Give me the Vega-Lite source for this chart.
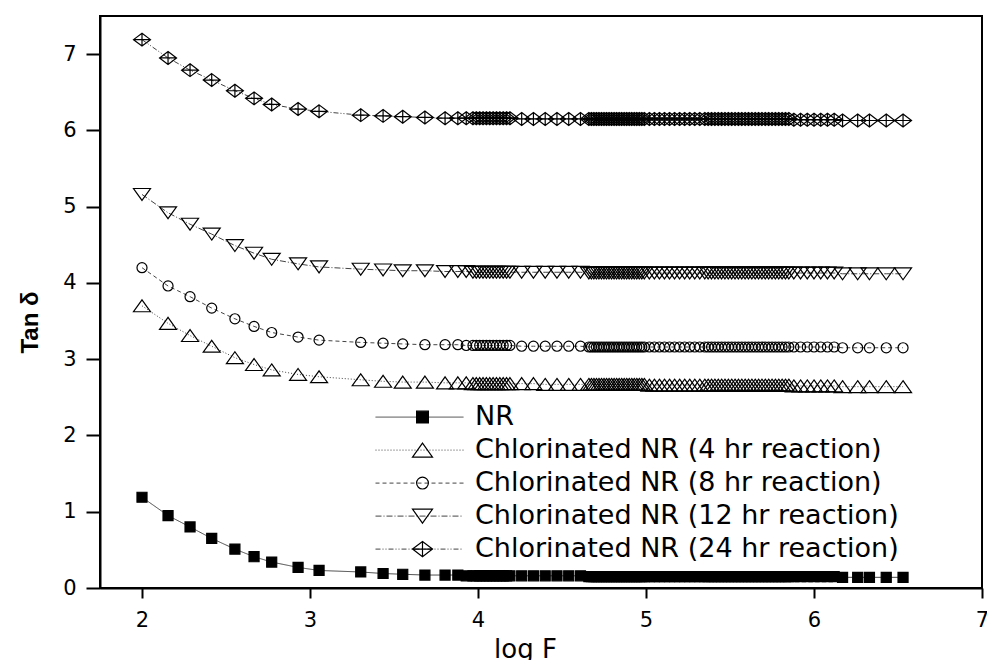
{
"$schema": "https://vega.github.io/schema/vega-lite/v6.json",
"width": 882,
"height": 572,
"autosize": {"type": "none"},
"padding": {"left": 100, "top": 16, "right": 5, "bottom": 72},
"config": {
  "font": "DejaVu Sans",
  "view": {"stroke": "black", "strokeWidth": 2},
  "axis": {"domainColor": "black", "domainWidth": 2, "tickColor": "black", "tickWidth": 2, "labelColor": "black", "labelFont": "DejaVu Sans", "labelFontSize": 21, "grid": false, "titleColor": "black"}
},
"data": {"values": [
{"x":2,"s":"NR","y":1.19},{"x":2.155,"s":"NR","y":0.95},{"x":2.286,"s":"NR","y":0.8},{"x":2.415,"s":"NR","y":0.65},{"x":2.553,"s":"NR","y":0.51},{"x":2.667,"s":"NR","y":0.41},{"x":2.772,"s":"NR","y":0.34},{"x":2.929,"s":"NR","y":0.27},{"x":3.054,"s":"NR","y":0.23},{"x":3.302,"s":"NR","y":0.21},{"x":3.435,"s":"NR","y":0.19},{"x":3.552,"s":"NR","y":0.18},{"x":3.684,"s":"NR","y":0.17},{"x":3.804,"s":"NR","y":0.17},{"x":3.88,"s":"NR","y":0.17},{"x":3.93,"s":"NR","y":0.16},
{"x":3.97,"s":"NR","y":0.16},{"x":3.99,"s":"NR","y":0.16},{"x":4.01,"s":"NR","y":0.16},{"x":4.03,"s":"NR","y":0.16},{"x":4.05,"s":"NR","y":0.16},{"x":4.07,"s":"NR","y":0.16},{"x":4.09,"s":"NR","y":0.16},{"x":4.11,"s":"NR","y":0.16},{"x":4.13,"s":"NR","y":0.16},{"x":4.15,"s":"NR","y":0.16},{"x":4.17,"s":"NR","y":0.16},{"x":4.19,"s":"NR","y":0.16},
{"x":4.26,"s":"NR","y":0.16},{"x":4.33,"s":"NR","y":0.16},{"x":4.4,"s":"NR","y":0.16},{"x":4.47,"s":"NR","y":0.16},{"x":4.54,"s":"NR","y":0.16},{"x":4.61,"s":"NR","y":0.16},
{"x":4.66,"s":"NR","y":0.15},{"x":4.675,"s":"NR","y":0.15},{"x":4.69,"s":"NR","y":0.15},{"x":4.705,"s":"NR","y":0.15},{"x":4.72,"s":"NR","y":0.15},{"x":4.735,"s":"NR","y":0.15},{"x":4.75,"s":"NR","y":0.15},{"x":4.765,"s":"NR","y":0.15},{"x":4.78,"s":"NR","y":0.15},{"x":4.795,"s":"NR","y":0.15},{"x":4.81,"s":"NR","y":0.15},{"x":4.825,"s":"NR","y":0.15},{"x":4.84,"s":"NR","y":0.15},{"x":4.855,"s":"NR","y":0.15},{"x":4.87,"s":"NR","y":0.15},{"x":4.885,"s":"NR","y":0.15},{"x":4.9,"s":"NR","y":0.15},{"x":4.915,"s":"NR","y":0.15},{"x":4.93,"s":"NR","y":0.15},{"x":4.945,"s":"NR","y":0.15},{"x":4.96,"s":"NR","y":0.15},{"x":4.975,"s":"NR","y":0.15},{"x":4.99,"s":"NR","y":0.15},
{"x":5.02,"s":"NR","y":0.15},{"x":5.05,"s":"NR","y":0.15},{"x":5.08,"s":"NR","y":0.15},{"x":5.11,"s":"NR","y":0.15},{"x":5.14,"s":"NR","y":0.15},{"x":5.17,"s":"NR","y":0.15},{"x":5.2,"s":"NR","y":0.15},{"x":5.23,"s":"NR","y":0.15},{"x":5.26,"s":"NR","y":0.15},{"x":5.29,"s":"NR","y":0.15},{"x":5.32,"s":"NR","y":0.15},{"x":5.35,"s":"NR","y":0.15},
{"x":5.37,"s":"NR","y":0.15},{"x":5.39,"s":"NR","y":0.15},{"x":5.41,"s":"NR","y":0.15},{"x":5.43,"s":"NR","y":0.15},{"x":5.45,"s":"NR","y":0.15},{"x":5.47,"s":"NR","y":0.15},{"x":5.49,"s":"NR","y":0.15},{"x":5.51,"s":"NR","y":0.15},{"x":5.53,"s":"NR","y":0.15},{"x":5.55,"s":"NR","y":0.15},{"x":5.57,"s":"NR","y":0.15},{"x":5.59,"s":"NR","y":0.15},{"x":5.61,"s":"NR","y":0.15},{"x":5.63,"s":"NR","y":0.15},{"x":5.65,"s":"NR","y":0.15},{"x":5.67,"s":"NR","y":0.15},{"x":5.69,"s":"NR","y":0.15},{"x":5.71,"s":"NR","y":0.15},{"x":5.73,"s":"NR","y":0.15},{"x":5.75,"s":"NR","y":0.15},{"x":5.77,"s":"NR","y":0.15},{"x":5.79,"s":"NR","y":0.15},{"x":5.81,"s":"NR","y":0.15},{"x":5.83,"s":"NR","y":0.15},{"x":5.85,"s":"NR","y":0.15},
{"x":5.88,"s":"NR","y":0.15},{"x":5.92,"s":"NR","y":0.15},{"x":5.96,"s":"NR","y":0.15},{"x":6,"s":"NR","y":0.15},{"x":6.04,"s":"NR","y":0.15},{"x":6.08,"s":"NR","y":0.15},{"x":6.12,"s":"NR","y":0.15},{"x":6.17,"s":"NR","y":0.14},{"x":6.26,"s":"NR","y":0.14},{"x":6.33,"s":"NR","y":0.14},{"x":6.43,"s":"NR","y":0.14},{"x":6.53,"s":"NR","y":0.14},

{"x":2,"s":"4h","y":3.7},{"x":2.155,"s":"4h","y":3.47},{"x":2.286,"s":"4h","y":3.31},{"x":2.415,"s":"4h","y":3.17},{"x":2.553,"s":"4h","y":3.02},{"x":2.667,"s":"4h","y":2.93},{"x":2.772,"s":"4h","y":2.86},{"x":2.929,"s":"4h","y":2.8},{"x":3.054,"s":"4h","y":2.77},{"x":3.302,"s":"4h","y":2.73},{"x":3.435,"s":"4h","y":2.71},{"x":3.552,"s":"4h","y":2.7},{"x":3.684,"s":"4h","y":2.7},{"x":3.804,"s":"4h","y":2.69},{"x":3.88,"s":"4h","y":2.69},{"x":3.93,"s":"4h","y":2.69},
{"x":3.97,"s":"4h","y":2.68},{"x":3.99,"s":"4h","y":2.68},{"x":4.01,"s":"4h","y":2.68},{"x":4.03,"s":"4h","y":2.68},{"x":4.05,"s":"4h","y":2.68},{"x":4.07,"s":"4h","y":2.68},{"x":4.09,"s":"4h","y":2.68},{"x":4.11,"s":"4h","y":2.68},{"x":4.13,"s":"4h","y":2.68},{"x":4.15,"s":"4h","y":2.68},{"x":4.17,"s":"4h","y":2.68},{"x":4.19,"s":"4h","y":2.68},
{"x":4.26,"s":"4h","y":2.68},{"x":4.33,"s":"4h","y":2.68},{"x":4.4,"s":"4h","y":2.67},{"x":4.47,"s":"4h","y":2.67},{"x":4.54,"s":"4h","y":2.67},{"x":4.61,"s":"4h","y":2.67},
{"x":4.66,"s":"4h","y":2.67},{"x":4.675,"s":"4h","y":2.67},{"x":4.69,"s":"4h","y":2.67},{"x":4.705,"s":"4h","y":2.67},{"x":4.72,"s":"4h","y":2.67},{"x":4.735,"s":"4h","y":2.67},{"x":4.75,"s":"4h","y":2.67},{"x":4.765,"s":"4h","y":2.67},{"x":4.78,"s":"4h","y":2.67},{"x":4.795,"s":"4h","y":2.67},{"x":4.81,"s":"4h","y":2.67},{"x":4.825,"s":"4h","y":2.67},{"x":4.84,"s":"4h","y":2.67},{"x":4.855,"s":"4h","y":2.67},{"x":4.87,"s":"4h","y":2.67},{"x":4.885,"s":"4h","y":2.67},{"x":4.9,"s":"4h","y":2.67},{"x":4.915,"s":"4h","y":2.67},{"x":4.93,"s":"4h","y":2.67},{"x":4.945,"s":"4h","y":2.67},{"x":4.96,"s":"4h","y":2.67},{"x":4.975,"s":"4h","y":2.67},{"x":4.99,"s":"4h","y":2.67},
{"x":5.02,"s":"4h","y":2.66},{"x":5.05,"s":"4h","y":2.66},{"x":5.08,"s":"4h","y":2.66},{"x":5.11,"s":"4h","y":2.66},{"x":5.14,"s":"4h","y":2.66},{"x":5.17,"s":"4h","y":2.66},{"x":5.2,"s":"4h","y":2.66},{"x":5.23,"s":"4h","y":2.66},{"x":5.26,"s":"4h","y":2.66},{"x":5.29,"s":"4h","y":2.66},{"x":5.32,"s":"4h","y":2.66},{"x":5.35,"s":"4h","y":2.66},
{"x":5.37,"s":"4h","y":2.66},{"x":5.39,"s":"4h","y":2.66},{"x":5.41,"s":"4h","y":2.66},{"x":5.43,"s":"4h","y":2.66},{"x":5.45,"s":"4h","y":2.66},{"x":5.47,"s":"4h","y":2.66},{"x":5.49,"s":"4h","y":2.66},{"x":5.51,"s":"4h","y":2.66},{"x":5.53,"s":"4h","y":2.66},{"x":5.55,"s":"4h","y":2.66},{"x":5.57,"s":"4h","y":2.66},{"x":5.59,"s":"4h","y":2.66},{"x":5.61,"s":"4h","y":2.66},{"x":5.63,"s":"4h","y":2.66},{"x":5.65,"s":"4h","y":2.66},{"x":5.67,"s":"4h","y":2.66},{"x":5.69,"s":"4h","y":2.66},{"x":5.71,"s":"4h","y":2.66},{"x":5.73,"s":"4h","y":2.66},{"x":5.75,"s":"4h","y":2.66},{"x":5.77,"s":"4h","y":2.66},{"x":5.79,"s":"4h","y":2.66},{"x":5.81,"s":"4h","y":2.66},{"x":5.83,"s":"4h","y":2.66},{"x":5.85,"s":"4h","y":2.66},
{"x":5.88,"s":"4h","y":2.65},{"x":5.92,"s":"4h","y":2.65},{"x":5.96,"s":"4h","y":2.65},{"x":6,"s":"4h","y":2.65},{"x":6.04,"s":"4h","y":2.65},{"x":6.08,"s":"4h","y":2.65},{"x":6.12,"s":"4h","y":2.65},{"x":6.17,"s":"4h","y":2.64},{"x":6.26,"s":"4h","y":2.64},{"x":6.33,"s":"4h","y":2.64},{"x":6.43,"s":"4h","y":2.64},{"x":6.53,"s":"4h","y":2.64},

{"x":2,"s":"8h","y":4.2},{"x":2.155,"s":"8h","y":3.96},{"x":2.286,"s":"8h","y":3.82},{"x":2.415,"s":"8h","y":3.67},{"x":2.553,"s":"8h","y":3.53},{"x":2.667,"s":"8h","y":3.43},{"x":2.772,"s":"8h","y":3.35},{"x":2.929,"s":"8h","y":3.29},{"x":3.054,"s":"8h","y":3.25},{"x":3.302,"s":"8h","y":3.22},{"x":3.435,"s":"8h","y":3.21},{"x":3.552,"s":"8h","y":3.2},{"x":3.684,"s":"8h","y":3.19},{"x":3.804,"s":"8h","y":3.19},{"x":3.88,"s":"8h","y":3.19},{"x":3.93,"s":"8h","y":3.18},
{"x":3.97,"s":"8h","y":3.18},{"x":3.99,"s":"8h","y":3.18},{"x":4.01,"s":"8h","y":3.18},{"x":4.03,"s":"8h","y":3.18},{"x":4.05,"s":"8h","y":3.18},{"x":4.07,"s":"8h","y":3.18},{"x":4.09,"s":"8h","y":3.18},{"x":4.11,"s":"8h","y":3.18},{"x":4.13,"s":"8h","y":3.18},{"x":4.15,"s":"8h","y":3.18},{"x":4.17,"s":"8h","y":3.18},{"x":4.19,"s":"8h","y":3.18},
{"x":4.26,"s":"8h","y":3.17},{"x":4.33,"s":"8h","y":3.17},{"x":4.4,"s":"8h","y":3.17},{"x":4.47,"s":"8h","y":3.17},{"x":4.54,"s":"8h","y":3.17},{"x":4.61,"s":"8h","y":3.17},
{"x":4.66,"s":"8h","y":3.16},{"x":4.675,"s":"8h","y":3.16},{"x":4.69,"s":"8h","y":3.16},{"x":4.705,"s":"8h","y":3.16},{"x":4.72,"s":"8h","y":3.16},{"x":4.735,"s":"8h","y":3.16},{"x":4.75,"s":"8h","y":3.16},{"x":4.765,"s":"8h","y":3.16},{"x":4.78,"s":"8h","y":3.16},{"x":4.795,"s":"8h","y":3.16},{"x":4.81,"s":"8h","y":3.16},{"x":4.825,"s":"8h","y":3.16},{"x":4.84,"s":"8h","y":3.16},{"x":4.855,"s":"8h","y":3.16},{"x":4.87,"s":"8h","y":3.16},{"x":4.885,"s":"8h","y":3.16},{"x":4.9,"s":"8h","y":3.16},{"x":4.915,"s":"8h","y":3.16},{"x":4.93,"s":"8h","y":3.16},{"x":4.945,"s":"8h","y":3.16},{"x":4.96,"s":"8h","y":3.16},{"x":4.975,"s":"8h","y":3.16},{"x":4.99,"s":"8h","y":3.16},
{"x":5.02,"s":"8h","y":3.16},{"x":5.05,"s":"8h","y":3.16},{"x":5.08,"s":"8h","y":3.16},{"x":5.11,"s":"8h","y":3.16},{"x":5.14,"s":"8h","y":3.16},{"x":5.17,"s":"8h","y":3.16},{"x":5.2,"s":"8h","y":3.16},{"x":5.23,"s":"8h","y":3.16},{"x":5.26,"s":"8h","y":3.16},{"x":5.29,"s":"8h","y":3.16},{"x":5.32,"s":"8h","y":3.16},{"x":5.35,"s":"8h","y":3.16},
{"x":5.37,"s":"8h","y":3.16},{"x":5.39,"s":"8h","y":3.16},{"x":5.41,"s":"8h","y":3.16},{"x":5.43,"s":"8h","y":3.16},{"x":5.45,"s":"8h","y":3.16},{"x":5.47,"s":"8h","y":3.16},{"x":5.49,"s":"8h","y":3.16},{"x":5.51,"s":"8h","y":3.16},{"x":5.53,"s":"8h","y":3.16},{"x":5.55,"s":"8h","y":3.16},{"x":5.57,"s":"8h","y":3.16},{"x":5.59,"s":"8h","y":3.16},{"x":5.61,"s":"8h","y":3.16},{"x":5.63,"s":"8h","y":3.16},{"x":5.65,"s":"8h","y":3.16},{"x":5.67,"s":"8h","y":3.16},{"x":5.69,"s":"8h","y":3.16},{"x":5.71,"s":"8h","y":3.16},{"x":5.73,"s":"8h","y":3.16},{"x":5.75,"s":"8h","y":3.16},{"x":5.77,"s":"8h","y":3.16},{"x":5.79,"s":"8h","y":3.16},{"x":5.81,"s":"8h","y":3.16},{"x":5.83,"s":"8h","y":3.16},{"x":5.85,"s":"8h","y":3.16},
{"x":5.88,"s":"8h","y":3.16},{"x":5.92,"s":"8h","y":3.16},{"x":5.96,"s":"8h","y":3.16},{"x":6,"s":"8h","y":3.16},{"x":6.04,"s":"8h","y":3.16},{"x":6.08,"s":"8h","y":3.16},{"x":6.12,"s":"8h","y":3.16},{"x":6.17,"s":"8h","y":3.15},{"x":6.26,"s":"8h","y":3.15},{"x":6.33,"s":"8h","y":3.15},{"x":6.43,"s":"8h","y":3.15},{"x":6.53,"s":"8h","y":3.15},

{"x":2,"s":"12h","y":5.16},{"x":2.155,"s":"12h","y":4.92},{"x":2.286,"s":"12h","y":4.77},{"x":2.415,"s":"12h","y":4.64},{"x":2.553,"s":"12h","y":4.49},{"x":2.667,"s":"12h","y":4.39},{"x":2.772,"s":"12h","y":4.31},{"x":2.929,"s":"12h","y":4.25},{"x":3.054,"s":"12h","y":4.21},{"x":3.302,"s":"12h","y":4.18},{"x":3.435,"s":"12h","y":4.17},{"x":3.552,"s":"12h","y":4.16},{"x":3.684,"s":"12h","y":4.16},{"x":3.804,"s":"12h","y":4.15},{"x":3.88,"s":"12h","y":4.15},{"x":3.93,"s":"12h","y":4.15},
{"x":3.97,"s":"12h","y":4.14},{"x":3.99,"s":"12h","y":4.14},{"x":4.01,"s":"12h","y":4.14},{"x":4.03,"s":"12h","y":4.14},{"x":4.05,"s":"12h","y":4.14},{"x":4.07,"s":"12h","y":4.14},{"x":4.09,"s":"12h","y":4.14},{"x":4.11,"s":"12h","y":4.14},{"x":4.13,"s":"12h","y":4.14},{"x":4.15,"s":"12h","y":4.14},{"x":4.17,"s":"12h","y":4.14},{"x":4.19,"s":"12h","y":4.14},
{"x":4.26,"s":"12h","y":4.14},{"x":4.33,"s":"12h","y":4.14},{"x":4.4,"s":"12h","y":4.14},{"x":4.47,"s":"12h","y":4.14},{"x":4.54,"s":"12h","y":4.14},{"x":4.61,"s":"12h","y":4.14},
{"x":4.66,"s":"12h","y":4.13},{"x":4.675,"s":"12h","y":4.13},{"x":4.69,"s":"12h","y":4.13},{"x":4.705,"s":"12h","y":4.13},{"x":4.72,"s":"12h","y":4.13},{"x":4.735,"s":"12h","y":4.13},{"x":4.75,"s":"12h","y":4.13},{"x":4.765,"s":"12h","y":4.13},{"x":4.78,"s":"12h","y":4.13},{"x":4.795,"s":"12h","y":4.13},{"x":4.81,"s":"12h","y":4.13},{"x":4.825,"s":"12h","y":4.13},{"x":4.84,"s":"12h","y":4.13},{"x":4.855,"s":"12h","y":4.13},{"x":4.87,"s":"12h","y":4.13},{"x":4.885,"s":"12h","y":4.13},{"x":4.9,"s":"12h","y":4.13},{"x":4.915,"s":"12h","y":4.13},{"x":4.93,"s":"12h","y":4.13},{"x":4.945,"s":"12h","y":4.13},{"x":4.96,"s":"12h","y":4.13},{"x":4.975,"s":"12h","y":4.13},{"x":4.99,"s":"12h","y":4.13},
{"x":5.02,"s":"12h","y":4.13},{"x":5.05,"s":"12h","y":4.13},{"x":5.08,"s":"12h","y":4.13},{"x":5.11,"s":"12h","y":4.13},{"x":5.14,"s":"12h","y":4.13},{"x":5.17,"s":"12h","y":4.13},{"x":5.2,"s":"12h","y":4.13},{"x":5.23,"s":"12h","y":4.13},{"x":5.26,"s":"12h","y":4.13},{"x":5.29,"s":"12h","y":4.13},{"x":5.32,"s":"12h","y":4.13},{"x":5.35,"s":"12h","y":4.13},
{"x":5.37,"s":"12h","y":4.13},{"x":5.39,"s":"12h","y":4.13},{"x":5.41,"s":"12h","y":4.13},{"x":5.43,"s":"12h","y":4.13},{"x":5.45,"s":"12h","y":4.13},{"x":5.47,"s":"12h","y":4.13},{"x":5.49,"s":"12h","y":4.13},{"x":5.51,"s":"12h","y":4.13},{"x":5.53,"s":"12h","y":4.13},{"x":5.55,"s":"12h","y":4.13},{"x":5.57,"s":"12h","y":4.13},{"x":5.59,"s":"12h","y":4.13},{"x":5.61,"s":"12h","y":4.13},{"x":5.63,"s":"12h","y":4.13},{"x":5.65,"s":"12h","y":4.13},{"x":5.67,"s":"12h","y":4.13},{"x":5.69,"s":"12h","y":4.13},{"x":5.71,"s":"12h","y":4.13},{"x":5.73,"s":"12h","y":4.13},{"x":5.75,"s":"12h","y":4.13},{"x":5.77,"s":"12h","y":4.13},{"x":5.79,"s":"12h","y":4.13},{"x":5.81,"s":"12h","y":4.13},{"x":5.83,"s":"12h","y":4.13},{"x":5.85,"s":"12h","y":4.13},
{"x":5.88,"s":"12h","y":4.13},{"x":5.92,"s":"12h","y":4.13},{"x":5.96,"s":"12h","y":4.13},{"x":6,"s":"12h","y":4.13},{"x":6.04,"s":"12h","y":4.13},{"x":6.08,"s":"12h","y":4.13},{"x":6.12,"s":"12h","y":4.13},{"x":6.17,"s":"12h","y":4.12},{"x":6.26,"s":"12h","y":4.12},{"x":6.33,"s":"12h","y":4.12},{"x":6.43,"s":"12h","y":4.12},{"x":6.53,"s":"12h","y":4.12},

{"x":2,"s":"24h","y":7.19},{"x":2.155,"s":"24h","y":6.95},{"x":2.286,"s":"24h","y":6.79},{"x":2.415,"s":"24h","y":6.66},{"x":2.553,"s":"24h","y":6.52},{"x":2.667,"s":"24h","y":6.42},{"x":2.772,"s":"24h","y":6.34},{"x":2.929,"s":"24h","y":6.28},{"x":3.054,"s":"24h","y":6.25},{"x":3.302,"s":"24h","y":6.2},{"x":3.435,"s":"24h","y":6.19},{"x":3.552,"s":"24h","y":6.18},{"x":3.684,"s":"24h","y":6.17},{"x":3.804,"s":"24h","y":6.16},{"x":3.88,"s":"24h","y":6.16},{"x":3.93,"s":"24h","y":6.16},
{"x":3.97,"s":"24h","y":6.16},{"x":3.99,"s":"24h","y":6.16},{"x":4.01,"s":"24h","y":6.16},{"x":4.03,"s":"24h","y":6.16},{"x":4.05,"s":"24h","y":6.16},{"x":4.07,"s":"24h","y":6.16},{"x":4.09,"s":"24h","y":6.16},{"x":4.11,"s":"24h","y":6.16},{"x":4.13,"s":"24h","y":6.16},{"x":4.15,"s":"24h","y":6.16},{"x":4.17,"s":"24h","y":6.16},{"x":4.19,"s":"24h","y":6.16},
{"x":4.26,"s":"24h","y":6.15},{"x":4.33,"s":"24h","y":6.15},{"x":4.4,"s":"24h","y":6.15},{"x":4.47,"s":"24h","y":6.15},{"x":4.54,"s":"24h","y":6.15},{"x":4.61,"s":"24h","y":6.15},
{"x":4.66,"s":"24h","y":6.15},{"x":4.675,"s":"24h","y":6.15},{"x":4.69,"s":"24h","y":6.15},{"x":4.705,"s":"24h","y":6.15},{"x":4.72,"s":"24h","y":6.15},{"x":4.735,"s":"24h","y":6.15},{"x":4.75,"s":"24h","y":6.15},{"x":4.765,"s":"24h","y":6.15},{"x":4.78,"s":"24h","y":6.15},{"x":4.795,"s":"24h","y":6.15},{"x":4.81,"s":"24h","y":6.15},{"x":4.825,"s":"24h","y":6.15},{"x":4.84,"s":"24h","y":6.15},{"x":4.855,"s":"24h","y":6.15},{"x":4.87,"s":"24h","y":6.15},{"x":4.885,"s":"24h","y":6.15},{"x":4.9,"s":"24h","y":6.15},{"x":4.915,"s":"24h","y":6.15},{"x":4.93,"s":"24h","y":6.15},{"x":4.945,"s":"24h","y":6.15},{"x":4.96,"s":"24h","y":6.15},{"x":4.975,"s":"24h","y":6.15},{"x":4.99,"s":"24h","y":6.15},
{"x":5.02,"s":"24h","y":6.15},{"x":5.05,"s":"24h","y":6.15},{"x":5.08,"s":"24h","y":6.15},{"x":5.11,"s":"24h","y":6.15},{"x":5.14,"s":"24h","y":6.15},{"x":5.17,"s":"24h","y":6.15},{"x":5.2,"s":"24h","y":6.15},{"x":5.23,"s":"24h","y":6.15},{"x":5.26,"s":"24h","y":6.15},{"x":5.29,"s":"24h","y":6.15},{"x":5.32,"s":"24h","y":6.15},{"x":5.35,"s":"24h","y":6.15},
{"x":5.37,"s":"24h","y":6.15},{"x":5.39,"s":"24h","y":6.15},{"x":5.41,"s":"24h","y":6.15},{"x":5.43,"s":"24h","y":6.15},{"x":5.45,"s":"24h","y":6.15},{"x":5.47,"s":"24h","y":6.15},{"x":5.49,"s":"24h","y":6.15},{"x":5.51,"s":"24h","y":6.15},{"x":5.53,"s":"24h","y":6.15},{"x":5.55,"s":"24h","y":6.15},{"x":5.57,"s":"24h","y":6.15},{"x":5.59,"s":"24h","y":6.15},{"x":5.61,"s":"24h","y":6.15},{"x":5.63,"s":"24h","y":6.15},{"x":5.65,"s":"24h","y":6.15},{"x":5.67,"s":"24h","y":6.15},{"x":5.69,"s":"24h","y":6.15},{"x":5.71,"s":"24h","y":6.15},{"x":5.73,"s":"24h","y":6.15},{"x":5.75,"s":"24h","y":6.15},{"x":5.77,"s":"24h","y":6.15},{"x":5.79,"s":"24h","y":6.15},{"x":5.81,"s":"24h","y":6.15},{"x":5.83,"s":"24h","y":6.15},{"x":5.85,"s":"24h","y":6.15},
{"x":5.88,"s":"24h","y":6.14},{"x":5.92,"s":"24h","y":6.14},{"x":5.96,"s":"24h","y":6.14},{"x":6,"s":"24h","y":6.14},{"x":6.04,"s":"24h","y":6.14},{"x":6.08,"s":"24h","y":6.14},{"x":6.12,"s":"24h","y":6.14},{"x":6.17,"s":"24h","y":6.13},{"x":6.26,"s":"24h","y":6.13},{"x":6.33,"s":"24h","y":6.13},{"x":6.43,"s":"24h","y":6.13},{"x":6.53,"s":"24h","y":6.13}
]},
"encoding": {
  "x": {"field": "x", "type": "quantitative",
    "scale": {"domain": [1.75, 7], "nice": false, "zero": false},
    "axis": {"title": "log F", "values": [2,2.5,3,3.5,4,4.5,5,5.5,6,6.5,7], "format": "d",
      "labelExpr": "datum.value % 1 === 0 ? datum.label : ''",
      "tickSize": {"condition": {"test": "datum.value % 1 !== 0", "value": 5}, "value": 10},
      "labelPadding": 11, "labelFlush": false,
      "titleFont": "DejaVu Sans", "titleFontSize": 26, "titleFontWeight": "normal",
      "titleX": 425, "titleY": 48, "titleBaseline": "top", "titleAlign": "center"}},
  "y": {"field": "y", "type": "quantitative",
    "scale": {"domain": [0, 7.5], "nice": false},
    "axis": {"title": "Tan δ", "values": [0,0.5,1,1.5,2,2.5,3,3.5,4,4.5,5,5.5,6,6.5,7,7.5], "format": "d",
      "labelExpr": "datum.value % 1 === 0 ? datum.label : ''",
      "tickSize": {"condition": {"test": "datum.value % 1 !== 0", "value": 7}, "value": 14},
      "labelPadding": 10, "labelFlush": false,
      "titleFont": "Liberation Sans", "titleFontSize": 24, "titleFontWeight": "bold",
      "titleX": -63, "titleY": 306, "titleBaseline": "alphabetic", "titleAlign": "center", "titleAngle": 270}}
},
"layer": [
  {"mark": {"type": "line", "color": "#444", "strokeWidth": 1},
   "encoding": {
     "strokeDash": {"field": "s", "type": "nominal", "sort": null,
       "scale": {"range": [[1,0],[1,2],[4,3],[6,2,1,2],[5,2,1,2,1,2]]},
       "legend": {"orient": "none", "legendX": 275, "legendY": 385, "title": null,
         "symbolType": "stroke", "symbolSize": 7744, "symbolStrokeWidth": 1, "symbolStrokeColor": "#444",
         "labelExpr": "''", "labelFontSize": 27, "clipHeight": 32.2, "rowPadding": 0, "padding": 0}}
   }},
  {"mark": {"type": "point", "stroke": "black", "strokeWidth": 1.2, "opacity": 1, "size": 289},
   "encoding": {
     "shape": {"field": "s", "type": "nominal",
       "scale": {"domain": ["NR","4h","8h","12h","24h"],
         "range": ["M-0.59,-0.59L0.59,-0.59L0.59,0.59L-0.59,0.59Z",
                   "M0,-0.7L1,0.7L-1,0.7Z",
                   "M0.59,0A0.59,0.59,0,1,1,-0.59,0A0.59,0.59,0,1,1,0.59,0Z",
                   "M0,0.7L1,-0.7L-1,-0.7Z",
                   "M0,-0.76L1,0L0,0.76L-1,0Z M0,-0.76L0,0.76 M-1,0L1,0"]},
       "legend": {"orient": "none", "legendX": 309, "legendY": 385, "title": null,
         "symbolSize": 400, "symbolStrokeColor": "black", "symbolStrokeWidth": 1.2, "symbolOpacity": 1,
         "labelFont": "DejaVu Sans", "labelFontSize": 27, "labelColor": "black", "labelOffset": 39, "labelLimit": 1000,
         "clipHeight": 32.2, "rowPadding": 0, "padding": 0,
         "encode": {"symbols": {"update": {"stroke": {"value": "black"}, "strokeWidth": {"value": 1.2}, "fill": {"signal": "datum.value === 'NR' ? 'black' : 'white'"}}}},
         "labelExpr": "datum.label == 'NR' ? 'NR' : datum.label == '4h' ? 'Chlorinated NR (4 hr reaction)' : datum.label == '8h' ? 'Chlorinated NR (8 hr reaction)' : datum.label == '12h' ? 'Chlorinated NR (12 hr reaction)' : 'Chlorinated NR (24 hr reaction)'"}},
     "fill": {"field": "s", "type": "nominal",
       "scale": {"domain": ["NR","4h","8h","12h","24h"], "range": ["black","transparent","transparent","transparent","transparent"]},
       "legend": {"orient": "none", "legendX": 309, "legendY": 385, "title": null,
         "symbolSize": 400, "symbolStrokeColor": "black", "symbolStrokeWidth": 1.2, "symbolOpacity": 1,
         "labelFont": "DejaVu Sans", "labelFontSize": 27, "labelColor": "black", "labelOffset": 39, "labelLimit": 1000,
         "clipHeight": 32.2, "rowPadding": 0, "padding": 0,
         "encode": {"symbols": {"update": {"stroke": {"value": "black"}, "strokeWidth": {"value": 1.2}, "fill": {"signal": "datum.value === 'NR' ? 'black' : 'white'"}}}},
         "labelExpr": "datum.label == 'NR' ? 'NR' : datum.label == '4h' ? 'Chlorinated NR (4 hr reaction)' : datum.label == '8h' ? 'Chlorinated NR (8 hr reaction)' : datum.label == '12h' ? 'Chlorinated NR (12 hr reaction)' : 'Chlorinated NR (24 hr reaction)'"}}
   }}
]
}
